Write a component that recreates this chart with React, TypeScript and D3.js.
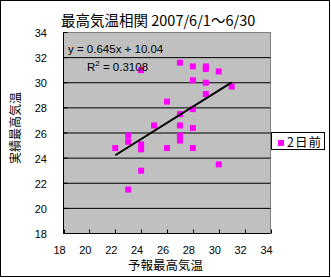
import React, { useEffect, useRef } from 'react';
import * as d3 from 'd3';

// 予報 (forecast) vs 実績 (actual) max temperature, 2 days ahead
const forecast = [22, 23, 23, 23, 24, 24, 24, 24, 25, 26, 26, 27, 27, 27, 27, 27, 28, 28, 28, 28, 28, 29, 29, 29, 29, 30, 30, 31];
const actual = [24.8, 25.8, 25.3, 21.5, 31.0, 25.1, 24.7, 23.0, 26.6, 28.5, 24.8, 31.6, 27.5, 26.6, 25.8, 25.4, 31.3, 30.2, 27.9, 26.4, 24.8, 31.3, 31.1, 30.0, 29.1, 30.9, 23.5, 29.7];
const xTicks = [18, 20, 22, 24, 26, 28, 30, 32, 34];
const yTicks = [18, 20, 22, 24, 26, 28, 30, 32, 34];
const trendSlope = 0.645;
const trendIntercept = 10.04;
const rSquared = '0.3108';
const seriesName = '2日前';

const latin = '"Liberation Sans", Arial, sans-serif';
const cjk = '"Noto Sans CJK JP", sans-serif';

const App: React.FC = () => {
  const svgRef = useRef<SVGSVGElement>(null);

  useEffect(() => {
    if (!svgRef.current) return;
    const width = 331;
    const height = 278;

    d3.select(svgRef.current).selectAll('*').remove();
    const svg = d3.select(svgRef.current).attr('width', width).attr('height', height);

    const x = d3.scaleLinear().domain([18, 34]).range([63.5, 270.5]);
    const y = d3.scaleLinear().domain([18, 34]).range([233.5, 32.5]);

    // outer frame
    svg.append('rect')
      .attr('x', 0.5).attr('y', 0.5).attr('width', 329).attr('height', 276)
      .attr('fill', '#fff').attr('stroke', '#000');

    // plot area
    svg.append('rect')
      .attr('x', x(18)).attr('y', y(34))
      .attr('width', x(34) - x(18)).attr('height', y(18) - y(34))
      .attr('fill', '#c0c0c0').attr('stroke', '#808080');

    // gridlines
    svg.append('g')
      .selectAll('line')
      .data(yTicks.filter(t => t > 18 && t < 34))
      .enter()
      .append('line')
      .attr('x1', x(18)).attr('x2', x(34))
      .attr('y1', d => y(d)).attr('y2', d => y(d))
      .attr('stroke', '#000');

    // axes lines
    svg.append('line').attr('x1', x(18)).attr('x2', x(18)).attr('y1', y(34)).attr('y2', y(18)).attr('stroke', '#000');
    svg.append('line').attr('x1', x(18)).attr('x2', x(34)).attr('y1', y(18)).attr('y2', y(18)).attr('stroke', '#000');

    // ticks (inside)
    svg.append('g').selectAll('line').data(xTicks).enter().append('line')
      .attr('x1', d => Math.round(x(d)) + 0.5).attr('x2', d => Math.round(x(d)) + 0.5)
      .attr('y1', y(18)).attr('y2', y(18) - 4)
      .attr('stroke', '#000');
    svg.append('g').selectAll('line').data(yTicks).enter().append('line')
      .attr('x1', x(18)).attr('x2', x(18) + 4)
      .attr('y1', d => y(d)).attr('y2', d => y(d))
      .attr('stroke', '#000');

    // tick labels
    svg.append('g').selectAll('text').data(xTicks).enter().append('text')
      .attr('x', d => x(d) - 4).attr('y', 254)
      .attr('text-anchor', 'middle')
      .attr('font-family', latin).attr('font-size', 11)
      .text(d => d);
    svg.append('g').selectAll('text').data(yTicks).enter().append('text')
      .attr('x', 47).attr('y', d => y(d) + 4.5)
      .attr('text-anchor', 'end')
      .attr('font-family', latin).attr('font-size', 11)
      .text(d => d);

    // points
    svg.append('g').selectAll('rect').data(forecast).enter().append('rect')
      .attr('x', (d) => x(d) - 3)
      .attr('y', (d, i) => y(actual[i]) - 3)
      .attr('width', 6).attr('height', 6)
      .attr('fill', '#ff00ff');

    // trend line
    const [x0, x1] = d3.extent(forecast) as [number, number];
    svg.append('line')
      .attr('x1', x(x0)).attr('y1', y(trendSlope * x0 + trendIntercept))
      .attr('x2', x(x1)).attr('y2', y(trendSlope * x1 + trendIntercept))
      .attr('stroke', '#000').attr('stroke-width', 2);

    // equation labels
    svg.append('text')
      .attr('x', 68).attr('y', 53)
      .attr('font-family', latin).attr('font-size', 11.5)
      .text(`y = ${trendSlope}x + ${trendIntercept}`);
    const r2 = svg.append('text')
      .attr('x', 87).attr('y', 70.5)
      .attr('font-family', latin).attr('font-size', 11.5);
    r2.append('tspan').text('R');
    r2.append('tspan').attr('dy', -5).attr('font-size', 8).text('2');
    r2.append('tspan').attr('dy', 5).text(` = ${rSquared}`);

    // title
    svg.append('text')
      .attr('x', 61).attr('y', 26)
      .attr('font-family', cjk).attr('font-size', 14.5)
      .text('最高気温相関 2007/6/1～6/30');

    // axis titles
    svg.append('text')
      .attr('x', 165.5).attr('y', 269.5)
      .attr('text-anchor', 'middle')
      .attr('font-family', cjk).attr('font-size', 12.5)
      .text('予報最高気温');
    svg.append('text')
      .attr('transform', 'translate(20,128) rotate(-90)')
      .attr('text-anchor', 'middle')
      .attr('font-family', cjk).attr('font-size', 12)
      .text('実績最高気温');

    // legend
    const lg = svg.append('g');
    lg.append('rect')
      .attr('x', 271.5).attr('y', 132.5).attr('width', 53).attr('height', 17)
      .attr('fill', '#fff').attr('stroke', '#000');
    lg.append('rect')
      .attr('x', 278).attr('y', 140).attr('width', 6).attr('height', 6)
      .attr('fill', '#ff00ff');
    lg.append('text')
      .attr('x', 287).attr('y', 146.5)
      .attr('font-family', cjk).attr('font-size', 12.5)
      .attr('letter-spacing', 1)
      .text(seriesName);
  }, []);

  return (
    <div style={{ position: 'absolute', left: 0, top: 0 }}>
      <svg ref={svgRef}></svg>
    </div>
  );
};

export default App;
